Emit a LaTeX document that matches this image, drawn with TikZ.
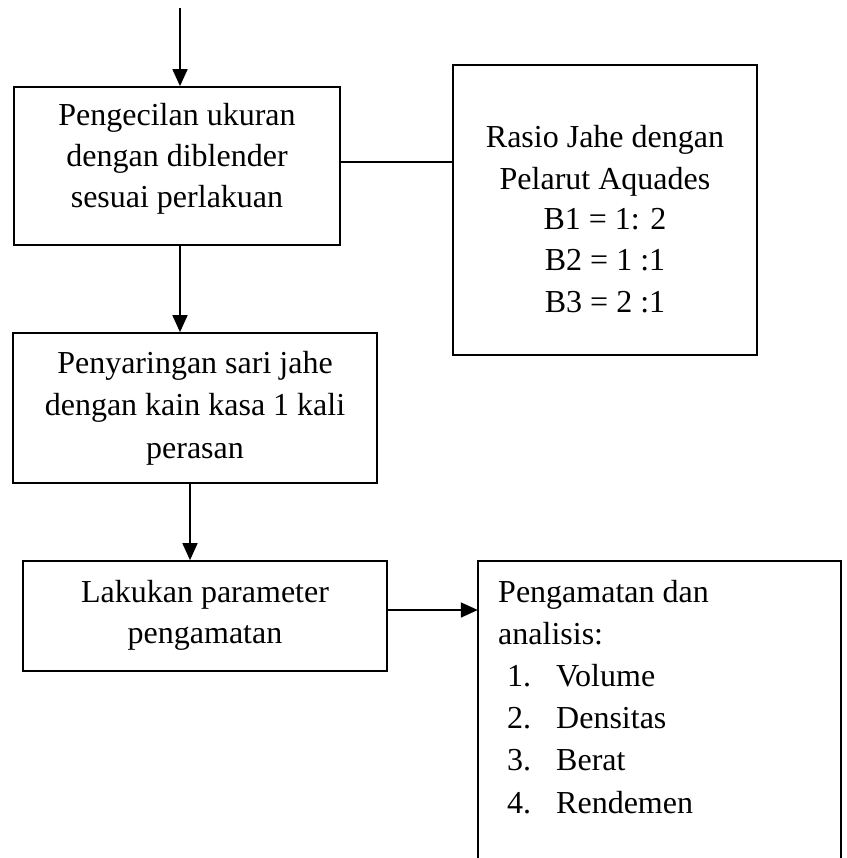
\documentclass[tikz,border=0pt]{standalone}
\usepackage{fontspec}
\setmainfont{Liberation Serif}
\usetikzlibrary{arrows.meta}
\begin{document}
\begin{tikzpicture}[x=1pt,y=-1pt,
  box/.style={draw, line width=1.7pt, inner sep=0pt},
  openbox/.style={inner sep=0pt},
  txt/.style={font=\fontsize{32}{41}\selectfont, inner sep=0pt, anchor=base, align=center},
  ltxt/.style={font=\fontsize{32}{42.2}\selectfont, inner sep=0pt, anchor=base west, align=left},
  arr/.style={line width=1.7pt, -{Triangle[length=17pt,width=15pt]}},
  ln/.style={line width=1.7pt}]
\useasboundingbox (0,0) rectangle (846,858);
% boxes
\node[box, minimum width=326pt, minimum height=158pt] (b1) at (177,166) {};
\node[box, minimum width=304pt, minimum height=290pt] (b2) at (605,210) {};
\node[box, minimum width=364pt, minimum height=150pt] (b3) at (195,408) {};
\node[box, minimum width=364pt, minimum height=110pt] (b4) at (205,616) {};
\node[openbox, minimum width=363pt, minimum height=309pt] (b5) at (659.5,715.5) {};
\draw[ln] (b5.south west) -- (b5.north west) -- (b5.north east) -- (b5.south east);
% texts (base anchor = baseline of the last line)
\node[txt] (t1) at (177,208) {Pengecilan ukuran\\dengan diblender\\sesuai perlakuan};
\node[txt] (t2) at (605,312) {Rasio Jahe dengan\\Pelarut Aquades\\B1 = 1: 2\\B2 = 1 :1\\B3 = 2 :1};
\node[txt, font=\fontsize{32}{42.5}\selectfont] (t3) at (195,458) {Penyaringan sari jahe\\dengan kain kasa 1 kali\\perasan};
\node[txt] (t4) at (205,643) {Lakukan parameter\\pengamatan};
\node[ltxt] (t5) at (498,813) {Pengamatan dan\\analisis:\\
\hspace*{9pt}\makebox[49pt][l]{1.}Volume\\
\hspace*{9pt}\makebox[49pt][l]{2.}Densitas\\
\hspace*{9pt}\makebox[49pt][l]{3.}Berat\\
\hspace*{9pt}\makebox[49pt][l]{4.}Rendemen};
% connectors
\coordinate (start) at (180,8);
\draw[arr] (start) -- (start |- b1.north);
\draw[ln] ([yshift=4pt]b1.east) -- ([yshift=4pt]b1.east -| b2.west);
\draw[arr] (b1.south -| start) -- (b3.north -| start);
\draw[arr] ([xshift=-5pt]b3.south) -- ([xshift=-5pt]b3.south |- b4.north);
\draw[arr] ([yshift=6pt]b4.east) -- ([yshift=6pt]b4.east -| b5.west);
\end{tikzpicture}
\end{document}
